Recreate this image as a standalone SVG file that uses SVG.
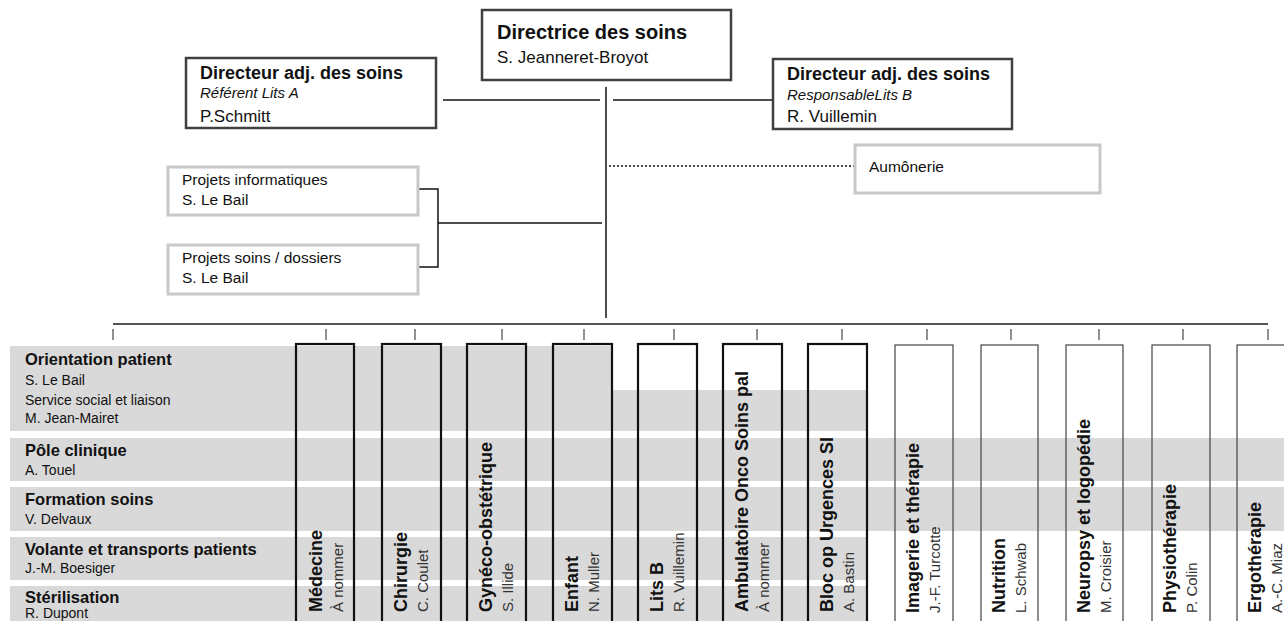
<svg xmlns="http://www.w3.org/2000/svg" width="1284" height="621" viewBox="0 0 1284 621">
<style>
text{font-family:"Liberation Sans",Arial,sans-serif;fill:#111}
.t{font-weight:bold;font-size:18px}
.tt{font-weight:bold;font-size:20px}
.it{font-style:italic;font-size:15px}
.nm{font-size:17px}
.sm{font-size:15.5px}
.bt{font-weight:bold;font-size:16.5px}
.bn{font-size:14px}
.ct{font-weight:bold;font-size:18px}
.cn{font-size:15px;fill:#333}
.box{fill:#fff;stroke:#404040;stroke-width:2.5}
.lbox{fill:#fff;stroke:#c8c8c8;stroke-width:3}
.band{fill:#d9d9d9}
.c1{fill:none;stroke:#111;stroke-width:2.2}
.c2{fill:none;stroke:#444;stroke-width:1.2}
.ln{stroke:#111;stroke-width:1.5;fill:none}
.tk{stroke:#555;stroke-width:1.3}
</style>

<g id="bands">
<rect class="band" x="10" y="346" width="603" height="85"/>
<rect class="band" x="613" y="390" width="255" height="41"/>
<rect class="band" x="10" y="438" width="1274" height="43"/>
<rect class="band" x="10" y="487" width="1274" height="44"/>
<rect class="band" x="10" y="537" width="858" height="43"/>
<rect class="band" x="10" y="586" width="858" height="40"/>
</g>

<g id="connectors">
<line class="ln" x1="606" y1="87" x2="606" y2="318"/>
<line class="ln" x1="443" y1="100" x2="600" y2="100"/>
<line class="ln" x1="613" y1="100" x2="772" y2="100"/>
<line class="ln" x1="609" y1="166" x2="855" y2="166" stroke-dasharray="2,2"/>
<polyline class="ln" points="418,189 438,189 438,267 418,267"/>
<line class="ln" x1="438" y1="223" x2="602" y2="223"/>
<line x1="113" y1="324" x2="1268" y2="324" stroke="#555" stroke-width="2"/>
<line class="tk" x1="113" y1="329" x2="113" y2="340"/>
<line class="tk" x1="326" y1="329" x2="326" y2="340"/>
<line class="tk" x1="415" y1="329" x2="415" y2="340"/>
<line class="tk" x1="502" y1="329" x2="502" y2="340"/>
<line class="tk" x1="584" y1="329" x2="584" y2="340"/>
<line class="tk" x1="674" y1="329" x2="674" y2="340"/>
<line class="tk" x1="757" y1="329" x2="757" y2="340"/>
<line class="tk" x1="842" y1="329" x2="842" y2="340"/>
<line class="tk" x1="927" y1="329" x2="927" y2="340"/>
<line class="tk" x1="1011" y1="329" x2="1011" y2="340"/>
<line class="tk" x1="1099" y1="329" x2="1099" y2="340"/>
<line class="tk" x1="1183" y1="329" x2="1183" y2="340"/>
<line class="tk" x1="1268" y1="329" x2="1268" y2="340"/>
</g>

<g id="directrice">
<rect class="box" x="482" y="10" width="249" height="70"/>
<text class="tt" x="497" y="39">Directrice des soins</text>
<text class="nm" x="497" y="63">S. Jeanneret-Broyot</text>
</g>

<g id="adj-a">
<rect class="box" x="186" y="58" width="250" height="70"/>
<text class="t" x="200" y="79">Directeur adj. des soins</text>
<text class="it" x="200" y="98">Référent Lits A</text>
<text class="nm" x="200" y="122">P.Schmitt</text>
</g>

<g id="adj-b">
<rect class="box" x="773" y="59" width="239" height="70"/>
<text class="t" x="787" y="80">Directeur adj. des soins</text>
<text class="it" x="787" y="100">ResponsableLits B</text>
<text class="nm" x="787" y="122">R. Vuillemin</text>
</g>

<g id="aumonerie">
<rect class="lbox" x="855" y="145" width="245" height="48"/>
<text class="sm" x="869" y="172">Aumônerie</text>
</g>

<g id="projets-info">
<rect class="lbox" x="168" y="167" width="250" height="48"/>
<text class="sm" x="182" y="185">Projets informatiques</text>
<text class="sm" x="182" y="205">S. Le Bail</text>
</g>

<g id="projets-soins">
<rect class="lbox" x="168" y="245" width="250" height="49"/>
<text class="sm" x="182" y="263">Projets soins / dossiers</text>
<text class="sm" x="182" y="283">S. Le Bail</text>
</g>

<g id="transversal">
<text class="bt" x="25" y="365">Orientation patient</text>
<text class="bn" x="25" y="385">S. Le Bail</text>
<text class="bn" x="25" y="405">Service social et liaison</text>
<text class="bn" x="25" y="423">M. Jean-Mairet</text>
<text class="bt" x="25" y="456">Pôle clinique</text>
<text class="bn" x="25" y="475">A. Touel</text>
<text class="bt" x="25" y="505">Formation soins</text>
<text class="bn" x="25" y="524">V. Delvaux</text>
<text class="bt" x="25" y="555">Volante et transports patients</text>
<text class="bn" x="25" y="573">J.-M. Boesiger</text>
<text class="bt" x="25" y="603">Stérilisation</text>
<text class="bn" x="25" y="618">R. Dupont</text>
</g>

<g id="col-medecine">
<rect class="c1" x="296" y="344" width="58" height="300"/>
<text class="ct" transform="translate(322,612) rotate(-90)">Médecine</text>
<text class="cn" transform="translate(343,612) rotate(-90)">À nommer</text>
</g>
<g id="col-chirurgie">
<rect class="c1" x="382" y="344" width="59" height="300"/>
<text class="ct" transform="translate(407,612) rotate(-90)">Chirurgie</text>
<text class="cn" transform="translate(428,612) rotate(-90)">C. Coulet</text>
</g>
<g id="col-gyneco">
<rect class="c1" x="467" y="344" width="59" height="300"/>
<text class="ct" transform="translate(492,612) rotate(-90)">Gynéco-obstétrique</text>
<text class="cn" transform="translate(513,612) rotate(-90)">S. Illide</text>
</g>
<g id="col-enfant">
<rect class="c1" x="553" y="344" width="59" height="300"/>
<text class="ct" transform="translate(578,612) rotate(-90)">Enfant</text>
<text class="cn" transform="translate(599,612) rotate(-90)">N. Muller</text>
</g>
<g id="col-litsb">
<rect class="c1" x="638" y="344" width="59" height="300"/>
<text class="ct" transform="translate(663,612) rotate(-90)">Lits B</text>
<text class="cn" transform="translate(684,612) rotate(-90)">R. Vuillemin</text>
</g>
<g id="col-ambulatoire">
<rect class="c1" x="723" y="344" width="59" height="300"/>
<text class="ct" transform="translate(748,612) rotate(-90)">Ambulatoire Onco Soins pal</text>
<text class="cn" transform="translate(769,612) rotate(-90)">À nommer</text>
</g>
<g id="col-bloc">
<rect class="c1" x="808" y="344" width="59" height="300"/>
<text class="ct" transform="translate(833,612) rotate(-90)">Bloc op Urgences SI</text>
<text class="cn" transform="translate(854,612) rotate(-90)">A. Bastin</text>
</g>
<g id="col-imagerie">
<rect class="c2" x="895" y="345" width="58" height="300"/>
<text class="ct" transform="translate(919,613) rotate(-90)">Imagerie et thérapie</text>
<text class="cn" transform="translate(940,613) rotate(-90)">J.-F. Turcotte</text>
</g>
<g id="col-nutrition">
<rect class="c2" x="981" y="345" width="57" height="300"/>
<text class="ct" transform="translate(1005,613) rotate(-90)">Nutrition</text>
<text class="cn" transform="translate(1026,613) rotate(-90)">L. Schwab</text>
</g>
<g id="col-neuropsy">
<rect class="c2" x="1066" y="345" width="57" height="300"/>
<text class="ct" transform="translate(1090,613) rotate(-90)">Neuropsy et logopédie</text>
<text class="cn" transform="translate(1111,613) rotate(-90)">M. Croisier</text>
</g>
<g id="col-physio">
<rect class="c2" x="1152" y="345" width="58" height="300"/>
<text class="ct" transform="translate(1176,613) rotate(-90)">Physiothérapie</text>
<text class="cn" transform="translate(1197,613) rotate(-90)">P. Colin</text>
</g>
<g id="col-ergo">
<rect class="c2" x="1237" y="345" width="58" height="300"/>
<text class="ct" transform="translate(1261,613) rotate(-90)">Ergothérapie</text>
<text class="cn" transform="translate(1282,613) rotate(-90)">A.-C. Miaz</text>
</g>
</svg>
